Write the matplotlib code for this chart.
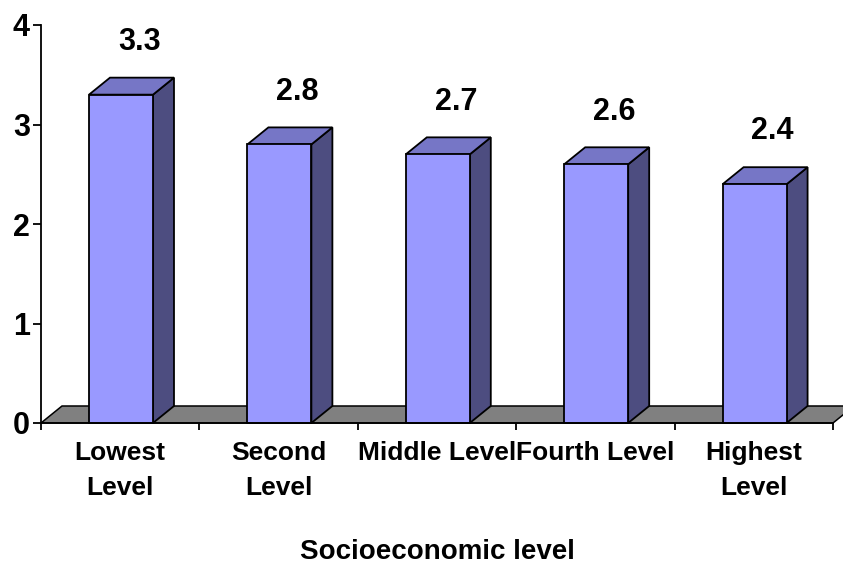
import numpy as np
import matplotlib
matplotlib.use("Agg")
from matplotlib import pyplot as plt
from matplotlib.patches import Polygon

categories = ["Lowest\nLevel", "Second\nLevel", "Middle Level", "Fourth Level", "Highest\nLevel"]
values = [3.3, 2.8, 2.7, 2.6, 2.4]
value_labels = ["3.3", "2.8", "2.7", "2.6", "2.4"]

front_col = "#9999ff"
top_col = "#7676c6"
side_col = "#4d4d80"
floor_col = "#808080"

plt.rcParams['font.family'] = ['Liberation Sans', 'DejaVu Sans']

fig = plt.figure(figsize=(8.43, 5.65), dpi=100)
ax = fig.add_axes([41/843, 1 - 423/565, 792/843, 398/565])
ax.set_xlim(0, 5)
ax.set_ylim(0, 4)

# depth offset for the fake 3d look (data units)
dx = 21 / (792 / 5)
dy = 17 / (398 / 4)

# floor
floor = Polygon([(0, 0), (5, 0), (5 + dx, dy), (dx, dy)], closed=True,
                facecolor=floor_col, edgecolor="black", lw=1.1, clip_on=False, zorder=1)
ax.add_patch(floor)

w = 0.404
for i, v in enumerate(values):
    x0 = i + 0.303
    x1 = x0 + w
    front = Polygon([(x0, 0), (x1, 0), (x1, v), (x0, v)], closed=True,
                    facecolor=front_col, edgecolor="black", lw=1.3, zorder=3, clip_on=False)
    top = Polygon([(x0, v), (x1, v), (x1 + dx, v + dy), (x0 + dx, v + dy)], closed=True,
                  facecolor=top_col, edgecolor="black", lw=1.3, zorder=3, clip_on=False)
    side = Polygon([(x1, 0), (x1 + dx, dy), (x1 + dx, v + dy), (x1, v)], closed=True,
                   facecolor=side_col, edgecolor="black", lw=1.3, zorder=3, clip_on=False)
    ax.add_patch(side)
    ax.add_patch(top)
    ax.add_patch(front)
    ax.text(i + 0.5 + dx * 0.9, v + 0.53, value_labels[i], ha="center", va="center",
            fontsize=22, fontweight="bold")

for s in ["top", "right"]:
    ax.spines[s].set_visible(False)
for s in ["left", "bottom"]:
    ax.spines[s].set_linewidth(1.3)
    ax.spines[s].set_zorder(4)

ax.set_yticks([0, 1, 2, 3, 4])
ax.set_yticklabels(["0", "1", "2", "3", "4"], fontsize=22, fontweight="bold")
ax.tick_params(axis="y", length=6, width=1.3, pad=2)

ax.set_xticks(np.arange(6))
ax.set_xticklabels([])
ax.set_xticks(np.arange(5) + 0.5, minor=True)
ax.set_xticklabels(categories, minor=True, fontsize=19, fontweight="bold", linespacing=1.6)
ax.tick_params(axis="x", which="major", length=5, width=1.3)
ax.tick_params(axis="x", which="minor", length=0, pad=13)

ax.set_xlabel("Socioeconomic level", fontsize=20, fontweight="bold", labelpad=28)

fig.savefig("out.png", dpi=100)
